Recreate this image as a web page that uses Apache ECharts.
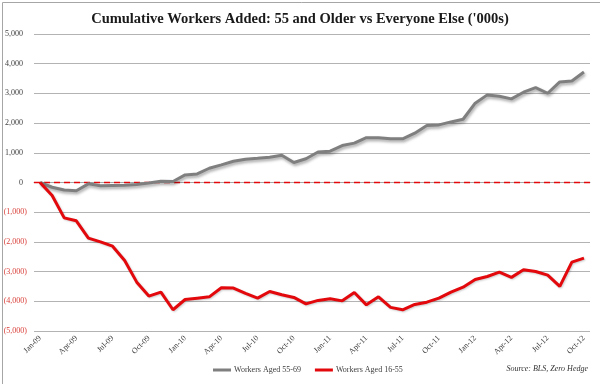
<!DOCTYPE html>
<html>
<head>
<meta charset="utf-8">
<script src="https://cdn.jsdelivr.net/npm/echarts@6/dist/echarts.min.js"></script>
<style>
html,body{margin:0;padding:0;background:#fff;}
#chart{width:600px;height:384px;}
</style>
</head>
<body>
<div id="chart"></div>
<script>
const months = [
 'Jan-09','Feb-09','Mar-09','Apr-09','May-09','Jun-09','Jul-09','Aug-09','Sep-09','Oct-09','Nov-09','Dec-09',
 'Jan-10','Feb-10','Mar-10','Apr-10','May-10','Jun-10','Jul-10','Aug-10','Sep-10','Oct-10','Nov-10','Dec-10',
 'Jan-11','Feb-11','Mar-11','Apr-11','May-11','Jun-11','Jul-11','Aug-11','Sep-11','Oct-11','Nov-11','Dec-11',
 'Jan-12','Feb-12','Mar-12','Apr-12','May-12','Jun-12','Jul-12','Aug-12','Sep-12','Oct-12'
];
const aged55to69 = [
 0,-160,-255,-280,-45,-110,-100,-90,-70,-15,45,35,
 255,290,480,595,715,785,815,850,915,675,800,1025,
 1055,1245,1325,1510,1510,1470,1470,1660,1920,1940,2040,2130,
 2670,2950,2905,2815,3040,3195,3005,3385,3420,3720
];
const aged16to55 = [
 0,-440,-1190,-1290,-1875,-2000,-2145,-2625,-3355,-3825,-3690,-4285,
 -3940,-3895,-3850,-3545,-3555,-3735,-3895,-3670,-3780,-3870,-4085,-3970,
 -3915,-3985,-3705,-4120,-3850,-4205,-4285,-4105,-4030,-3895,-3690,-3525,
 -3265,-3165,-3020,-3195,-2940,-2995,-3120,-3500,-2680,-2545
];
const seriesNames = ['Workers Aged 55-69','Workers Aged 16-55'];
const titleText = "Cumulative Workers Added: 55 and Older vs Everyone Else ('000s)";
const sourceText = 'Source: BLS, Zero Hedge';

const serif = '"Liberation Serif", "DejaVu Serif", serif';
const chart = echarts.init(document.getElementById('chart'), null, {renderer:'canvas'});

function fmtNum(v){
  const a = Math.abs(v).toString().replace(/\B(?=(\d{3})+(?!\d))/g, ',');
  if (v < 0) return '{n|(' + a + ')}';
  return '{p|' + a + '}';
}

chart.setOption({
  animation: false,
  backgroundColor: '#fff',
  title: {
    text: titleText,
    left: 'center',
    top: 7,
    textStyle: {fontFamily: serif, fontWeight: 'bold', fontSize: 14.5, color: '#1a1a1a'}
  },
  graphic: [
    {type:'rect', left:0, top:0, shape:{width:599, height:383}, style:{fill:'none', stroke:'#a6a6a6', lineWidth:1}, silent:true},
    {type:'text', right:12, top:365, style:{text: sourceText, font: 'italic 8px ' + serif, fill:'#333'}}
  ],
  legend: {
    data: seriesNames,
    left: 208,
    top: 361,
    icon: 'rect',
    itemWidth: 18,
    itemHeight: 3,
    itemGap: 14,
    textStyle: {fontFamily: serif, fontSize: 8, color: '#404040', padding:[0,0,0,-2]}
  },
  grid: {left: 34, right: 10, top: 34, bottom: 53, containLabel: false},
  xAxis: {
    type: 'category',
    data: months,
    boundaryGap: true,
    axisLine: {show: true, lineStyle: {color: '#a6a6a6', width: 1}},
    axisTick: {show: false},
    axisLabel: {
      interval: 2,
      rotate: 45,
      margin: 6,
      fontFamily: serif,
      fontSize: 8,
      color: '#404040'
    },
    splitLine: {show: false}
  },
  yAxis: {
    type: 'value',
    min: -5000,
    max: 5000,
    interval: 1000,
    axisLine: {show: false},
    axisTick: {show: false},
    splitLine: {show: true, lineStyle: {color: '#b3b3b3', width: 1}},
    axisLabel: {
      margin: 7,
      formatter: fmtNum,
      rich: {
        p: {fontFamily: serif, fontSize: 8, color: '#404040', padding: [0, 4, 0, 0]},
        n: {fontFamily: serif, fontSize: 8, color: '#d9403a'}
      }
    }
  },
  series: [
    {
      name: seriesNames[0],
      type: 'line',
      data: aged55to69,
      symbol: 'none',
      lineStyle: {color: '#7f7f7f', width: 3, shadowColor: 'rgba(0,0,0,0.35)', shadowBlur: 3, shadowOffsetY: 2, shadowOffsetX: 1},
      itemStyle: {color: '#7f7f7f'},
      z: 3
    },
    {
      name: seriesNames[1],
      type: 'line',
      data: aged16to55,
      symbol: 'none',
      lineStyle: {color: '#e3080c', width: 3, shadowColor: 'rgba(0,0,0,0.2)', shadowBlur: 2, shadowOffsetY: 1, shadowOffsetX: 1},
      itemStyle: {color: '#e3080c'},
      z: 4,
      markLine: {
        silent: true,
        symbol: ['none','none'],
        label: {show: false},
        lineStyle: {color: '#e3080c', type: [6, 4], width: 1.3},
        data: [{yAxis: 0}],
        z: 2
      }
    }
  ]
});
</script>
</body>
</html>
